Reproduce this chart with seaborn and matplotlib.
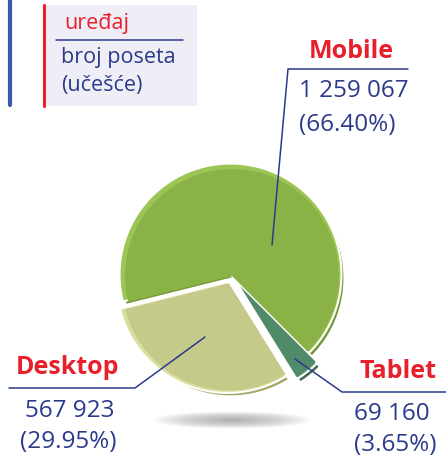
import matplotlib
matplotlib.use("Agg")
import matplotlib.pyplot as plt
from matplotlib.patches import Ellipse
import seaborn as sns

# Visits by device type
categories = ["Mobile", "Desktop", "Tablet"]
visits = [1259067, 567923, 69160]
shares = [66.40, 29.95, 3.65]

legend_title = "uređaj"
legend_lines = ["broj poseta", "(učešće)"]

sns.set_theme(style="white")
plt.rcParams["font.family"] = ["Open Sans", "DejaVu Sans"]

RED = "#e8202c"
BLUE = "#2c3a8c"
main_cols = ["#8bb247", "#c5ca8a", "#4f8a69"]
light_cols = ["#9dc556", "#dade9f", "#68a483"]
dark_cols = ["#739636", "#a3a868", "#3a6b4f"]

W, H = 446, 457
fig = plt.figure(figsize=(W / 100, H / 100), dpi=100)
ax = fig.add_axes([0, 0, 1, 1])


def py(y):
    """Convert a top-down pixel row to axis y."""
    return H - y


cx, cy, R = 232, py(276), 111
# pie's explode offsets are in data units (pixels here)
explode_px = [0, 8, 13]

# Soft shadow under the pie
for i in range(14):
    f = 1 - i / 14
    ax.add_patch(Ellipse((232, py(420)), 158 * f, 17 * f, color="#8a8a8a",
                         alpha=0.065, lw=0, zorder=0))

# Bevelled pie: dark and light rims offset, main face on top
for cols, dx, dy, r, ew in [(dark_cols, 1.5, -2.0, R, 1.5),
                            (light_cols, -1.5, 1.5, R, 1.5),
                            (main_cols, 0, 0, R - 4, 0)]:
    ax.pie(visits, colors=cols, startangle=315, counterclock=True,
           radius=r, center=(cx + dx, cy + dy),
           explode=explode_px,
           wedgeprops=dict(linewidth=ew, edgecolor="white"),
           frame=True)
ax.set_xlim(0, W)
ax.set_ylim(0, H)
ax.set_aspect("equal")
ax.axis("off")

# Leader lines
lw = 1.1
ax.plot([272, 288, 408], [py(245), py(69), py(69)], color=BLUE, lw=lw, zorder=5)
ax.plot([205, 135, 9], [py(337), py(388), py(388)], color=BLUE, lw=lw, zorder=5)
ax.plot([295, 342, 446], [py(359), py(392), py(392)], color=BLUE, lw=lw, zorder=5)


def fmt(v):
    return f"{v:,}".replace(",", " ")


NAME_FS, NUM_FS = 18, 17.5

# Labels: name, count and share
ax.text(351, py(51), categories[0], color=RED, fontsize=NAME_FS, fontweight="bold",
        ha="center", va="center")
ax.text(299, py(91), fmt(visits[0]), color=BLUE, fontsize=NUM_FS, ha="left", va="center")
ax.text(299, py(125), f"({shares[0]:.2f}%)", color=BLUE, fontsize=NUM_FS,
        ha="left", va="center")

ax.text(68, py(367), categories[1], color=RED, fontsize=NAME_FS, fontweight="bold",
        ha="center", va="center")
ax.text(70, py(411), fmt(visits[1]), color=BLUE, fontsize=NUM_FS, ha="center", va="center")
ax.text(68, py(442), f"({shares[1]:.2f}%)", color=BLUE, fontsize=NUM_FS,
        ha="center", va="center")

ax.text(398, py(371), categories[2], color=RED, fontsize=NAME_FS, fontweight="bold",
        ha="center", va="center")
ax.text(354, py(414), fmt(visits[2]), color=BLUE, fontsize=NUM_FS, ha="left", va="center")
ax.text(354, py(445), f"({shares[2]:.2f}%)", color=BLUE, fontsize=NUM_FS,
        ha="left", va="center")

# Key box in the upper left
ax.add_patch(plt.Rectangle((43, py(106)), 154, 101, color="#efedf5", lw=0, zorder=1))
ax.plot([44, 44], [py(5), py(106)], color=RED, lw=2.2, zorder=2)
ax.plot([9.5, 9.5], [py(0), py(105)], color="#3a5ba4", lw=3, zorder=2)
ax.plot([56, 183], [py(40), py(40)], color=BLUE, lw=1.1, zorder=2)
ax.text(64, py(23), legend_title, color=RED, fontsize=15.5, ha="left", va="center", zorder=3)
ax.text(61, py(58), legend_lines[0], color=BLUE, fontsize=15.5, ha="left", va="center", zorder=3)
ax.text(61, py(86), legend_lines[1], color=BLUE, fontsize=15.5, ha="left", va="center", zorder=3)

fig.savefig("out.png", dpi=100, facecolor="white")
